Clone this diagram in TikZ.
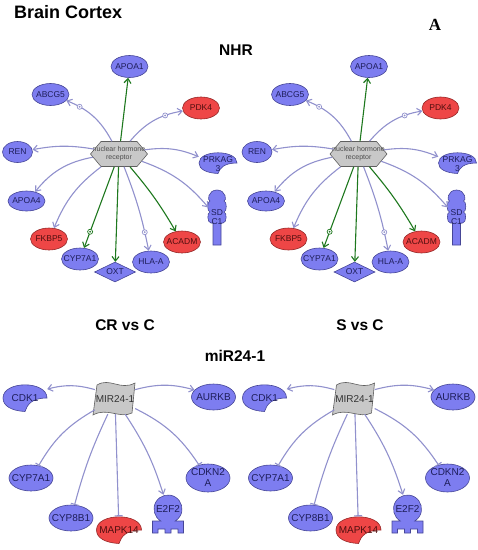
\documentclass[tikz,border=0pt]{standalone}
\usepackage{fontspec}
\setmainfont{Liberation Sans}
\newfontfamily\panelserif{Liberation Serif}
\usetikzlibrary{shapes.geometric, shapes.symbols, arrows.meta}
\definecolor{geneblue}{RGB}{125, 125, 240}
\definecolor{geneblueline}{RGB}{70, 70, 150}
\definecolor{genered}{RGB}{238, 70, 70}
\definecolor{generedline}{RGB}{150, 40, 40}
\definecolor{hubgray}{RGB}{200, 200, 200}
\definecolor{hubline}{RGB}{95, 95, 95}
\definecolor{linklav}{RGB}{145, 145, 205}
\definecolor{linkgreen}{RGB}{30, 120, 30}
\definecolor{bluetext}{RGB}{30, 30, 90}
\definecolor{redtext}{RGB}{80, 15, 15}
\pgfdeclarelayer{background}
\pgfsetlayers{background,main}
\newcommand\genefont{\fontsize{8.5}{9}\selectfont}
\newcommand\mirfont{\fontsize{10}{11}\selectfont}
\newcommand\hubfont{\fontsize{7}{8}\selectfont}
\newcommand\headfont{\fontsize{15.5}{17}\selectfont\bfseries}
% shapes drawn behind their (invisible) nodes
\newcommand\kinaseshape[4]{%
  \filldraw[#1, shift={(#2)}] (-#3,0) .. controls (-#3,1.3*#4) and (#3,1.3*#4) .. (#3,0)
    .. controls (0.3*#3,0) and (0.1*#3,-0.5*#4) .. (0,-#4)
    .. controls (-0.6*#3,-0.95*#4) and (-#3,-0.6*#4) .. cycle;}
\newcommand\sdcshape[1]{%
  \filldraw[bluefill, shift={(#1)}] (-4,-28) -- (-4,-6) -- (-6,-6)
    .. controls (-10,-6) and (-10,5) .. (-7,5) .. controls (-10,5) and (-10,16) .. (-7,16)
    .. controls (-10,16) and (-9,27) .. (0,27) .. controls (9,27) and (10,16) .. (7,16)
    .. controls (10,16) and (10,5) .. (7,5) .. controls (10,5) and (10,-6) .. (6,-6)
    -- (4,-6) -- (4,-28) -- cycle;}
\newcommand\tfshape[1]{%
  \filldraw[bluefill, shift={(#1)}] (-15.5,-24) -- (-15.5,-12) -- (-7.2,-12)
    arc[start angle=239, end angle=-59, radius=14] -- (15.5,-12) -- (15.5,-24)
    -- (10,-24) -- (10,-20) -- (3,-20) -- (3,-24) -- (-3,-24) -- (-3,-20)
    -- (-10,-20) -- (-10,-24) -- cycle;}
\newcommand\mirshape[1]{%
  \filldraw[grayfill, shift={(#1)}] (-18,14) .. controls (-5,22) and (5,8) .. (20,16)
    -- (17,-14) .. controls (5,-20) and (-8,-8) .. (-22,-16) -- cycle;}
\tikzset{
  bluefill/.style={fill=geneblue, draw=geneblueline, line width=0.6pt},
  redfill/.style={fill=genered, draw=generedline, line width=0.6pt},
  grayfill/.style={fill=hubgray, draw=hubline, line width=0.6pt},
  gene/.style={
    ellipse,
    bluefill,
    minimum width=37pt,
    minimum height=22pt,
    inner xsep=-5pt,
    inner ysep=0pt,
    align=center,
    text=bluetext,
    font=\genefont
  },
  upgene/.style={gene, redfill, text=redtext},
  bgene/.style={gene, minimum width=44pt, minimum height=26pt, inner xsep=-7pt, font=\mirfont},
  bare/.style={inner sep=0pt, align=center, text=bluetext, font=\genefont},
  hub/.style={
    signal,
    signal to=west and east,
    signal pointer angle=100,
    grayfill,
    minimum width=57pt,
    minimum height=25pt,
    inner sep=0pt,
    align=center,
    text=black!70,
    font=\hubfont
  },
  head/.style={font=\headfont, inner sep=0pt},
  every edge/.style={
    draw=linklav,
    line width=1.1pt,
    -{Straight Barb[length=4.5pt,width=7pt]}
  },
  act/.style={draw=linkgreen},
  inh/.style={-{Bar[width=8pt]}},
  actdot/.style={
    circle,
    draw=#1,
    fill=white,
    line width=0.7pt,
    minimum size=5pt,
    inner sep=0pt,
    path picture={\fill[#1] (path picture bounding box.center) circle (1pt);}
  },
  actdot/.default=linklav
}
\begin{document}
\begin{tikzpicture}[x=1pt, y=1pt]
  \useasboundingbox (0,0) rectangle (478,-550);
  \node[head, anchor=west, font=\fontsize{18}{20}\selectfont\bfseries] (title) at (14,-12) {Brain Cortex};
  \node[inner sep=0pt, font=\panelserif\fontsize{17}{19}\selectfont\bfseries] (mark) at (435,-25) {A};
  \node[head] (nhr) at (236,-50) {NHR};
  \node[head] (crc) at (125,-325) {CR vs C};
  \node[head] (svc) at (360,-325) {S vs C};
  \node[head] (mirhead) at (235,-356) {miR24-1};

  \foreach \p/\dx in {l/0, r/239.5}{
  \begin{scope}[shift={(\dx,0)}]
    % nuclear hormone receptor network
    \node[hub] (\p-hub) at (119,-154) {\makebox[30pt]{nuclear hormone}\\\makebox[30pt]{receptor}};
    \node[gene] (\p-apoa1) at (129.5,-66.5) {APOA1};
    \node[gene] (\p-abcg5) at (50.5,-94.5) {ABCG5};
    \node[upgene] (\p-pdk4) at (201,-108) {PDK4};
    \node[gene, minimum width=30pt, minimum height=21pt] (\p-ren) at (17.5,-152) {REN};
    \node[bare, minimum width=38pt, minimum height=21pt] (\p-prkag3) at (218,-164) {PRKAG\\3};
    \node[gene, minimum height=20pt] (\p-apoa4) at (26.5,-201) {APOA4};
    \node[upgene] (\p-fkbp5) at (49,-239) {FKBP5};
    \node[gene] (\p-cyp7a1) at (80,-259) {CYP7A1};
    \node[gene, diamond, aspect=2, inner sep=1pt, minimum width=41pt, minimum height=20pt] (\p-oxt) at (115,-272) {OXT};
    \node[gene] (\p-hlaa) at (151,-262) {HLA-A};
    \node[upgene] (\p-acadm) at (182,-242) {ACADM};
    \node[bare, minimum width=17pt, minimum height=55pt] (\p-sdc1) at (217,-217) {SD\\C1};

    % miR24-1 network
    \node[bare, text=black!80, font=\mirfont, minimum width=40pt, minimum height=30pt] (\p-mir) at (115,-399) {MIR24-1};
    \node[bare, font=\mirfont, minimum width=44pt, minimum height=27pt] (\p-cdk1) at (25,-398) {CDK1};
    \node[bgene] (\p-aurkb) at (213.5,-397) {AURKB};
    \node[bgene] (\p-cyp7a1m) at (31,-478) {CYP7A1};
    \node[bgene] (\p-cyp8b1) at (71,-518) {CYP8B1};
    \node[bare, font=\mirfont, text=redtext, minimum width=45pt, minimum height=27pt] (\p-mapk14) at (119,-530) {MAPK14};
    \node[bare, font=\mirfont, minimum width=29pt, minimum height=28pt] (\p-e2f2) at (168,-509) {E2F2};
    \node[bgene, inner ysep=-3pt, minimum height=28pt] (\p-cdkn2a) at (208,-478) {CDKN2\\A};

    \begin{pgfonlayer}{background}
      \kinaseshape{bluefill}{218,-163}{19}{10.5}
      \sdcshape{217,-217}
      \mirshape{115,-399}
      \kinaseshape{bluefill}{25,-398}{22}{13.5}
      \kinaseshape{redfill}{119,-530}{22.5}{13.5}
      \tfshape{168,-509}
    \end{pgfonlayer}

    \path (\p-hub) edge[act] (\p-apoa1)
          (\p-hub) edge[bend right=20] node[pos=.78, actdot]{} (\p-abcg5)
          (\p-hub) edge[bend left=20] node[pos=.72, actdot]{} (\p-pdk4)
          (\p-hub) edge[bend right=10] (\p-ren)
          (\p-hub) edge[bend left=15] (\p-prkag3)
          (\p-hub) edge[bend right=20] (\p-apoa4)
          (\p-hub) edge[bend right=15] (\p-fkbp5)
          (\p-hub) edge[act] node[pos=.8, actdot=linkgreen]{} (\p-cyp7a1)
          (\p-hub) edge[act] (\p-oxt)
          (\p-hub) edge[bend left=5] node[pos=.8, actdot]{} (\p-hlaa)
          (\p-hub) edge[act, bend left=5] (\p-acadm)
          (\p-hub) edge[bend left=15] (\p-sdc1);

    \path (\p-mir.155) edge[bend right=15] (\p-cdk1)
          (\p-mir.25) edge[bend left=15] (\p-aurkb)
          (\p-mir) edge[inh, bend right=15] (\p-cyp7a1m)
          (\p-mir) edge[inh, bend right=5] (\p-cyp8b1)
          (\p-mir) edge[inh] (\p-mapk14)
          (\p-mir) edge[bend left=8] (\p-e2f2)
          (\p-mir) edge[inh, bend left=15] (\p-cdkn2a);
  \end{scope}
  }
\end{tikzpicture}
\end{document}
